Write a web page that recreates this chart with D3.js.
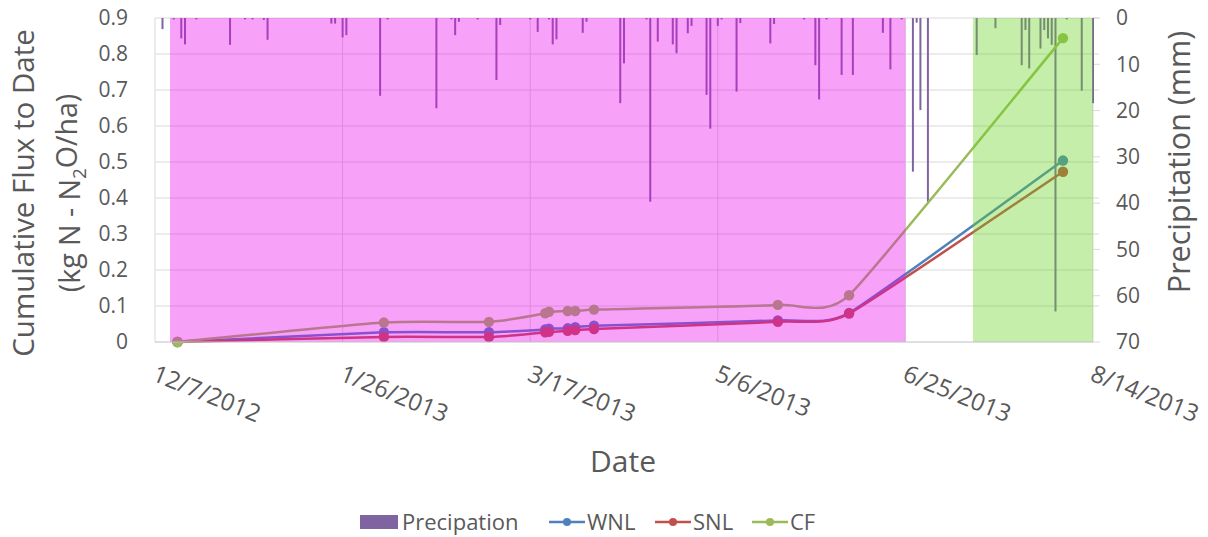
<!DOCTYPE html>
<html>
<head>
<meta charset="utf-8">
<script src="https://cdn.jsdelivr.net/npm/d3@7"></script>
<style>
  html, body { margin: 0; padding: 0; background: #ffffff; }
  svg { display: block; font-family: "Open Sans", "DejaVu Sans", sans-serif; }
</style>
</head>
<body>
<svg id="chart" width="1208" height="537"></svg>
<script>
// ---------------- DATA ----------------
const sampleDates = ["2012-12-13","2013-02-06","2013-03-06","2013-03-21","2013-03-22","2013-03-27","2013-03-29","2013-04-03","2013-05-22","2013-06-10","2013-08-06"];
const wnlValues = [0, 0.027, 0.027, 0.035, 0.037, 0.038, 0.041, 0.045, 0.060, 0.081, 0.504];
const snlValues = [0, 0.014, 0.014, 0.027, 0.028, 0.031, 0.033, 0.036, 0.056, 0.079, 0.473];
const cfValues  = [0, 0.054, 0.056, 0.080, 0.084, 0.086, 0.086, 0.090, 0.103, 0.130, 0.844];

const precipDates = ["2012-12-09","2012-12-12","2012-12-14","2012-12-15","2012-12-18","2012-12-27","2012-12-31",
  "2013-01-02","2013-01-05","2013-01-06","2013-01-23","2013-01-24","2013-01-26","2013-01-27",
  "2013-02-05","2013-02-07","2013-02-20","2013-02-24","2013-02-25","2013-02-26",
  "2013-03-03","2013-03-08","2013-03-09","2013-03-17","2013-03-19","2013-03-22","2013-03-23","2013-03-24","2013-03-31",
  "2013-04-01","2013-04-10","2013-04-11","2013-04-17","2013-04-18","2013-04-20","2013-04-24","2013-04-25","2013-04-28","2013-04-29",
  "2013-05-03","2013-05-04","2013-05-06","2013-05-07","2013-05-11","2013-05-12","2013-05-20","2013-05-21","2013-05-29",
  "2013-06-01","2013-06-02","2013-06-04","2013-06-08","2013-06-11","2013-06-19","2013-06-21","2013-06-24","2013-06-27","2013-06-28","2013-06-29",
  "2013-07-01","2013-07-14","2013-07-19","2013-07-26","2013-07-27","2013-07-28","2013-07-31",
  "2013-08-01","2013-08-02","2013-08-03","2013-08-04","2013-08-07","2013-08-11","2013-08-14"];
const precipMm = [2.4,0.3,4.4,5.7,0.3,5.8,0.3,
  0.3,0.4,4.7,1.2,1.2,4.2,3.7,
  16.8,0.3,19.5,0.3,3.7,0.8,
  0.3,13.4,1.5,0.3,3.0,0.3,5.7,4.6,3.2,
  0.8,18.4,9.8,0.3,39.7,5.1,5.7,7.6,3.3,1.7,
  16.6,23.9,1.7,0.3,15.9,1.1,5.5,1.3,0.3,
  10.2,17.6,0.3,12.3,12.3,3.2,11.1,0.3,33.2,1.0,19.9,
  39.7,8.0,2.2,10.2,2.6,10.9,6.6,
  2.6,4.4,5.8,63.4,0.3,15.7,18.4];

const xTickLabels = ["2012-12-07","2013-01-26","2013-03-17","2013-05-06","2013-06-25","2013-08-14"];
const leftTicks = [0, 0.1, 0.2, 0.3, 0.4, 0.5, 0.6, 0.7, 0.8, 0.9];
const rightTicks = [0, 10, 20, 30, 40, 50, 60, 70];

// shaded periods
const shadeStarts = ["2012-12-11", "2013-07-13"];
const shadeEnds   = ["2013-06-25", "2013-08-14"];
const shadeColors = ["rgba(235,0,235,0.37)", "rgba(100,210,30,0.38)"];

const seriesNames = ["WNL", "SNL", "CF"];
const seriesColors = ["#4f81bd", "#c0504d", "#9bbb59"];
const precipColor = "#8064a2";

// ---------------- LAYOUT ----------------
const parse = d3.timeParse("%Y-%m-%d");
const fmt = d3.timeFormat("%-m/%-d/%Y");
const svg = d3.select("#chart");
const L = 155, R = 1093, T = 18, B = 342;

const x = d3.scaleTime().domain([parse("2012-12-07"), parse("2013-08-14")]).range([L, R]);
const yL = d3.scaleLinear().domain([0, 0.9]).range([B, T]);
const yR = d3.scaleLinear().domain([0, 70]).range([T, B]);

const textColor = "#595959";
const gridColor = "#d9d9d9";

// Excel-like smoothed line: Bezier with Catmull-Rom tangents, clamped to segment widths
function smoothPath(pts) {
  const p = d3.path();
  const n = pts.length;
  const tan = pts.map((pt, i) => {
    const a = pts[Math.max(0, i - 1)], b = pts[Math.min(n - 1, i + 1)];
    let tx = (b[0] - a[0]) / 6, ty = (b[1] - a[1]) / 6;
    let lim = Infinity;
    if (i > 0) lim = Math.min(lim, (pt[0] - pts[i - 1][0]) / 3);
    if (i < n - 1) lim = Math.min(lim, (pts[i + 1][0] - pt[0]) / 3);
    if (tx > lim) { const s = lim / tx; tx *= s; ty *= s; }
    return [tx, ty];
  });
  p.moveTo(pts[0][0], pts[0][1]);
  for (let i = 0; i < n - 1; i++) {
    const a = pts[i], b = pts[i + 1];
    p.bezierCurveTo(a[0] + tan[i][0], a[1] + tan[i][1], b[0] - tan[i + 1][0], b[1] - tan[i + 1][1], b[0], b[1]);
  }
  return p.toString();
}

// gridlines
svg.append("g").selectAll("line").data(leftTicks.slice(1)).join("line")
  .attr("x1", L).attr("x2", R + 6).attr("y1", d => yL(d)).attr("y2", d => yL(d))
  .attr("stroke", gridColor).attr("stroke-width", 1);
svg.append("g").selectAll("line").data(xTickLabels.slice(1)).join("line")
  .attr("x1", d => x(parse(d))).attr("x2", d => x(parse(d))).attr("y1", T).attr("y2", B)
  .attr("stroke", gridColor).attr("stroke-width", 1);

// right axis tick marks
svg.append("g").selectAll("line").data(rightTicks).join("line")
  .attr("x1", R).attr("x2", R + 7).attr("y1", d => yR(d)).attr("y2", d => yR(d))
  .attr("stroke", gridColor);

// precipitation bars
const precip = precipDates.map((d, i) => ({ date: parse(d), v: precipMm[i] }));
svg.append("g").selectAll("rect").data(precip).join("rect")
  .attr("x", d => x(d.date) - 1).attr("width", 2)
  .attr("y", yR(0)).attr("height", d => Math.max(0.8, yR(d.v) - yR(0)))
  .attr("fill", precipColor);

// series
const allSeries = [wnlValues, snlValues, cfValues];
allSeries.forEach((vals, si) => {
  const pts = sampleDates.map((d, i) => [x(parse(d)), yL(vals[i])]);
  const g = svg.append("g");
  g.append("path").attr("d", smoothPath(pts)).attr("fill", "none")
    .attr("stroke", seriesColors[si]).attr("stroke-width", 2.5);
  g.selectAll("circle").data(pts).join("circle")
    .attr("cx", d => d[0]).attr("cy", d => d[1]).attr("r", 5.2)
    .attr("fill", seriesColors[si]);
});

// shaded overlays
svg.append("g").selectAll("rect").data(shadeStarts).join("rect")
  .attr("x", (d) => x(parse(d)))
  .attr("width", (d, i) => x(parse(shadeEnds[i])) - x(parse(d)))
  .attr("y", T).attr("height", B - T)
  .attr("fill", (d, i) => shadeColors[i]);

// axis lines
svg.append("line").attr("x1", L).attr("x2", L).attr("y1", T).attr("y2", B).attr("stroke", gridColor);
svg.append("line").attr("x1", L).attr("x2", R).attr("y1", B).attr("y2", B).attr("stroke", "#bfbfbf");

// left ticks
svg.append("g").selectAll("text").data(leftTicks).join("text")
  .attr("x", 128).attr("y", d => yL(d)).attr("dy", "0.35em")
  .attr("text-anchor", "end").attr("font-size", 21).attr("fill", textColor)
  .text(d => d3.format("")(d));

// right ticks
svg.append("g").selectAll("text").data(rightTicks).join("text")
  .attr("x", 1116).attr("y", d => yR(d)).attr("dy", "0.35em")
  .attr("text-anchor", "start").attr("font-size", 21).attr("fill", textColor)
  .text(d => d);

// x tick labels (rotated)
svg.append("g").selectAll("text").data(xTickLabels).join("text")
  .attr("transform", d => `translate(${x(parse(d)) - 4},${B + 38}) rotate(22)`)
  .attr("text-anchor", "start").attr("font-size", 24).attr("fill", textColor)
  .text(d => fmt(parse(d)));

// axis titles
svg.append("text").attr("x", 623).attr("y", 472).attr("text-anchor", "middle")
  .attr("font-size", 30).attr("fill", textColor).text("Date");

const yt = svg.append("text").attr("transform", "translate(24,193) rotate(-90)")
  .attr("text-anchor", "middle").attr("font-size", 29.5).attr("fill", textColor);
yt.append("tspan").attr("x", 0).attr("dy", "0.35em").text("Cumulative Flux to Date");
const yt2 = svg.append("text").attr("transform", "translate(70,193) rotate(-90)")
  .attr("text-anchor", "middle").attr("font-size", 28.5).attr("fill", textColor);
yt2.append("tspan").attr("dy", "0.35em").text("(kg N - N");
yt2.append("tspan").attr("font-size", 19).attr("dy", "0.3em").text("2");
yt2.append("tspan").attr("dy", "-0.3em").text("O/ha)");

svg.append("text").attr("transform", "translate(1179,162) rotate(-90)")
  .attr("text-anchor", "middle").attr("dy", "0.35em")
  .attr("font-size", 30.5).attr("fill", textColor).text("Precipitation (mm)");

// legend
const legY = 522;
const lg = svg.append("g");
lg.append("rect").attr("x", 360).attr("y", legY - 7).attr("width", 38).attr("height", 14).attr("fill", precipColor);
lg.append("text").attr("x", 402).attr("y", legY).attr("dy", "0.35em").attr("font-size", 22)
  .attr("fill", textColor).text("Precipation");
const legX = [549, 655, 752];
seriesNames.forEach((n, i) => {
  lg.append("line").attr("x1", legX[i]).attr("x2", legX[i] + 36).attr("y1", legY).attr("y2", legY)
    .attr("stroke", seriesColors[i]).attr("stroke-width", 2.5);
  lg.append("circle").attr("cx", legX[i] + 18).attr("cy", legY).attr("r", 4).attr("fill", seriesColors[i]);
  lg.append("text").attr("x", legX[i] + 38).attr("y", legY).attr("dy", "0.35em").attr("font-size", 22)
    .attr("fill", textColor).text(n);
});
</script>
</body>
</html>
